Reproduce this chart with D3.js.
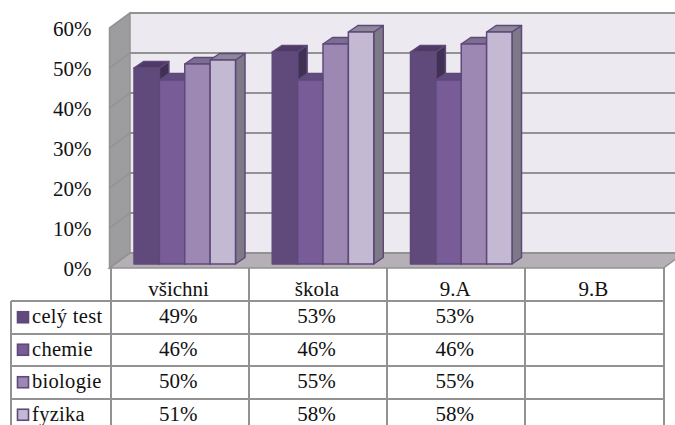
<!DOCTYPE html>
<html><head><meta charset="utf-8">
<script src="https://cdn.jsdelivr.net/npm/d3@7"></script>
<style>html,body{margin:0;padding:0;background:#fff}svg{display:block}text{font-family:"Liberation Serif",serif;fill:#111}</style>
</head><body><svg id="c" width="675" height="425"></svg>
<script>
const categories=["všichni","škola","9.A","9.B"];
const seriesNames=["celý test","chemie","biologie","fyzika"];
const celyTest=[49,53,53,null];
const chemie=[46,46,46,null];
const biologie=[50,55,55,null];
const fyzika=[51,58,58,null];
const seriesValues=[celyTest,chemie,biologie,fyzika];
const tickValues=[0,10,20,30,40,50,60];
const frontColors=["#604a7b","#775c97","#9c88b2","#c3b9d3"];
const topColors=["#4e3a66","#614a7f","#7d6d92","#8e8799"];
const sideColors=["#3f3054","#54426c","#6e6382","#7d7987"];

const svg=d3.select("#c");
const W=675,H=425;
const edge="#5f497a",grid="#929292";
const x=d3.scaleBand().domain(categories).range([110.5,663.5]);
const s=d3.scaleBand().domain(seriesNames).range([23.5,125]);
const y=d3.scaleLinear().domain([0,60]).range([264,24]);
const labelY=d3.scaleLinear().domain([0,60]).range([276,36]);
const dx=9.5,dy=6.5;
const backX=130,frontX=109.5;
const backY=v=>y(v)-11, wallFrontY=v=>y(v)+4;
const poly=p=>p.map(q=>q.join(",")).join(" ");

// walls
svg.append("polygon").attr("points",poly([[backX,backY(60)],[W+10,backY(60)],[W+10,backY(0)],[backX,backY(0)]])).attr("fill","#ece9f1");
svg.append("polygon").attr("points",poly([[frontX,wallFrontY(60)],[backX,backY(60)],[backX,backY(0)],[frontX,wallFrontY(0)]])).attr("fill","#9d9d9f").attr("stroke",grid).attr("stroke-width",1.5);
svg.append("polygon").attr("points",poly([[frontX,wallFrontY(0)],[backX,backY(0)],[684,backY(0)],[663.5,wallFrontY(0)]])).attr("fill","#b5afb6").attr("stroke",grid).attr("stroke-width",1.5);

// gridlines
const g=svg.append("g").selectAll("g").data(tickValues).join("g");
g.append("line").attr("x1",backX).attr("x2",W).attr("y1",d=>backY(d)).attr("y2",d=>backY(d)).attr("stroke",grid).attr("stroke-width",2);
g.append("line").attr("x1",frontX).attr("x2",backX).attr("y1",d=>wallFrontY(d)).attr("y2",d=>backY(d)).attr("stroke",grid).attr("stroke-width",1.5);

// y labels
svg.append("g").selectAll("text").data(tickValues).join("text")
 .attr("x",91.5).attr("y",d=>labelY(d)).attr("text-anchor","end").attr("font-size",21).text(d=>d+"%");

// bars
categories.forEach((c,ci)=>{
  seriesNames.forEach((n,si)=>{
    const v=seriesValues[si][ci];
    if(v==null)return;
    const x0=x(c)+s(n),x1=x0+s.bandwidth(),t=y(v),b=y(0);
    const bar=svg.append("g").attr("stroke",edge).attr("stroke-width",1.5).attr("stroke-linejoin","round");
    bar.append("polygon").attr("points",poly([[x1,t],[x1+dx,t-dy],[x1+dx,b-dy],[x1,b]])).attr("fill",sideColors[si]);
    bar.append("polygon").attr("points",poly([[x0,t],[x0+dx,t-dy],[x1+dx,t-dy],[x1,t]])).attr("fill",topColors[si]);
    bar.append("rect").attr("x",x0).attr("y",t).attr("width",x1-x0).attr("height",b-t).attr("fill",frontColors[si]);
  });
});

// data table
const rowTop=301,rowH=32.5,headTop=268;
const rowY=d3.scaleBand().domain(seriesNames).range([rowTop,rowTop+4*rowH]);
const tbl=svg.append("g");
const lines=tbl.append("g").attr("stroke",grid).attr("stroke-width",2).attr("shape-rendering","crispEdges");
const edges=[...categories.map(c=>x(c)),x.range()[1]];
lines.selectAll("line.v").data(edges).join("line").attr("class","v").attr("x1",d=>d).attr("x2",d=>d).attr("y1",headTop).attr("y2",H);
lines.append("line").attr("x1",10.5).attr("x2",10.5).attr("y1",rowTop).attr("y2",H).attr("stroke-width",2);
lines.selectAll("line.h").data(seriesNames).join("line").attr("class","h").attr("x1",10.5).attr("x2",x.range()[1]).attr("y1",d=>rowY(d)).attr("y2",d=>rowY(d));
tbl.selectAll("text.cat").data(categories).join("text").attr("class","cat")
 .attr("x",d=>x(d)+x.bandwidth()/2-1).attr("y",headTop+28).attr("text-anchor","middle").attr("font-size",21).text(d=>d);
seriesNames.forEach((n,si)=>{
  const cy=rowY(n)+rowY.bandwidth()/2;
  tbl.append("rect").attr("x",17.5).attr("y",cy-5.5).attr("width",11).attr("height",11).attr("fill",frontColors[si]).attr("stroke",edge).attr("stroke-width",1.6);
  tbl.append("text").attr("x",32).attr("y",cy+6).attr("font-size",20.5).attr("letter-spacing",0.3).text(n);
  categories.forEach((c,ci)=>{
    const v=seriesValues[si][ci];
    if(v==null)return;
    tbl.append("text").attr("x",x(c)+x.bandwidth()/2-1.5).attr("y",cy+6).attr("text-anchor","middle").attr("font-size",21).text(v+"%");
  });
});
</script></body></html>
